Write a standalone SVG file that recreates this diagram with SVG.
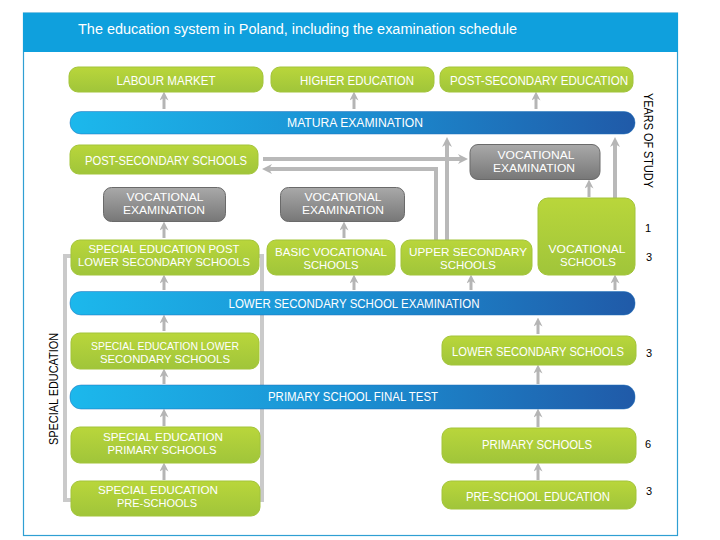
<svg xmlns="http://www.w3.org/2000/svg" width="720" height="540" viewBox="0 0 720 540">
<defs>
<linearGradient id="gGreen" x1="0" y1="0" x2="0" y2="1">
<stop offset="0" stop-color="#b9d63b"/><stop offset="1" stop-color="#a0c53a"/>
</linearGradient>
<linearGradient id="gGray" x1="0" y1="0" x2="0" y2="1">
<stop offset="0" stop-color="#a9a9a9"/><stop offset="1" stop-color="#777777"/>
</linearGradient>
<linearGradient id="gBlue" x1="0" y1="0" x2="1" y2="0">
<stop offset="0" stop-color="#1cb8ec"/><stop offset="0.5" stop-color="#1b8fd2"/><stop offset="1" stop-color="#205aa8"/>
</linearGradient>
<marker id="ah" viewBox="0 0 10 10" refX="6" refY="5" markerWidth="10" markerHeight="10" markerUnits="userSpaceOnUse" orient="auto">
<path d="M0,0 L10,5 L0,10 L3,5 z" fill="#b5b5b5"/>
</marker>
<marker id="ahs" viewBox="0 0 10 10" refX="5" refY="5" markerWidth="9" markerHeight="9" markerUnits="userSpaceOnUse" orient="auto">
<path d="M0,0 L10,5 L0,10 L3,5 z" fill="#b5b5b5"/>
</marker>
</defs>
<style>
.green{fill:url(#gGreen);stroke:#a3c43a;stroke-width:1}
.gray{fill:url(#gGray);stroke:#6a6a6a;stroke-width:1}
.bar{fill:url(#gBlue);stroke:#1d6fb8;stroke-width:0.5}
.t{font-family:"Liberation Sans",Arial,sans-serif;font-size:12.5px;fill:#ffffff;text-anchor:middle}
.t2{font-family:"Liberation Sans",Arial,sans-serif;font-size:11px;fill:#ffffff;text-anchor:middle}
.n{font-family:"Liberation Sans",Arial,sans-serif;font-size:11px;fill:#000000;text-anchor:middle}
.lbl{font-family:"Liberation Sans",Arial,sans-serif;font-size:12px;fill:#000000;text-anchor:middle}
.con{stroke:#b9b9b9;stroke-width:4;fill:none}
.sa{stroke:#b5b5b5;stroke-width:3;fill:none}
.br{stroke:#cacaca;stroke-width:4;fill:none}
</style>
<rect x="0" y="0" width="720" height="540" fill="#ffffff"/>
<rect x="23.5" y="13" width="654" height="522.5" fill="#ffffff" stroke="#2f9fd3" stroke-width="1.2"/>
<rect x="23" y="13" width="655" height="39" fill="#0fa0dd"/>
<text x="78" y="34" textLength="439" lengthAdjust="spacingAndGlyphs" style="font-family:'Liberation Sans',Arial,sans-serif;font-size:14px;fill:#ffffff">The education system in Poland, including the examination schedule</text>

<g id="special-education-bracket">
<rect class="br" x="65" y="256" width="197" height="244"/>
</g>

<g id="connectors">
<line class="sa" x1="164" y1="109" x2="164" y2="96" marker-end="url(#ahs)"/>
<line class="sa" x1="354" y1="109" x2="354" y2="96" marker-end="url(#ahs)"/>
<line class="sa" x1="536" y1="109" x2="536" y2="96" marker-end="url(#ahs)"/>
<polyline class="con" points="263,159 464,159" marker-end="url(#ah)"/>
<polyline class="con" points="436,240 436,169 266,169" marker-end="url(#ah)"/>
<polyline class="con" points="447,240 447,141" marker-end="url(#ah)"/>
<polyline class="con" points="615,198 615,141" marker-end="url(#ah)"/>
<line class="sa" x1="589" y1="197" x2="589" y2="184" marker-end="url(#ahs)"/>
<line class="sa" x1="164" y1="238" x2="164" y2="226" marker-end="url(#ahs)"/>
<line class="sa" x1="344" y1="238" x2="344" y2="226" marker-end="url(#ahs)"/>
<line class="sa" x1="164" y1="290" x2="164" y2="279" marker-end="url(#ahs)"/>
<line class="sa" x1="354" y1="290" x2="354" y2="279" marker-end="url(#ahs)"/>
<line class="sa" x1="471" y1="290" x2="471" y2="279" marker-end="url(#ahs)"/>
<line class="sa" x1="615" y1="290" x2="615" y2="279" marker-end="url(#ahs)"/>
<line class="sa" x1="164" y1="331" x2="164" y2="319" marker-end="url(#ahs)"/>
<line class="sa" x1="538" y1="334" x2="538" y2="322" marker-end="url(#ahs)"/>
<line class="sa" x1="164" y1="384" x2="164" y2="373" marker-end="url(#ahs)"/>
<line class="sa" x1="538" y1="384" x2="538" y2="369" marker-end="url(#ahs)"/>
<line class="sa" x1="164" y1="426" x2="164" y2="413" marker-end="url(#ahs)"/>
<line class="sa" x1="538" y1="427" x2="538" y2="413" marker-end="url(#ahs)"/>
<line class="sa" x1="164" y1="480" x2="164" y2="467" marker-end="url(#ahs)"/>
<line class="sa" x1="538" y1="480" x2="538" y2="467" marker-end="url(#ahs)"/>
</g>

<g id="labour-market"><rect class="green" x="69" y="67" width="194" height="25" rx="9"/><text class="t" x="166" y="85" textLength="99" lengthAdjust="spacingAndGlyphs">LABOUR MARKET</text></g>
<g id="higher-education"><rect class="green" x="271" y="67" width="163" height="25" rx="9"/><text class="t" x="357" y="85" textLength="114" lengthAdjust="spacingAndGlyphs">HIGHER EDUCATION</text></g>
<g id="post-secondary-education"><rect class="green" x="440" y="67" width="193" height="25" rx="9"/><text class="t" x="539" y="85" textLength="178" lengthAdjust="spacingAndGlyphs">POST-SECONDARY EDUCATION</text></g>

<g id="matura-examination"><rect class="bar" x="70" y="111.5" width="565" height="22.5" rx="11"/><text class="t" x="355" y="127" textLength="136" lengthAdjust="spacingAndGlyphs">MATURA EXAMINATION</text></g>

<g id="post-secondary-schools"><rect class="green" x="70" y="145" width="188" height="29" rx="9"/><text class="t" x="166" y="165" textLength="162" lengthAdjust="spacingAndGlyphs">POST-SECONDARY SCHOOLS</text></g>

<g id="vocational-examination-right"><rect class="gray" x="470" y="144.5" width="130" height="35" rx="8"/><text class="t2" x="536" y="159" textLength="77" lengthAdjust="spacingAndGlyphs">VOCATIONAL</text><text class="t2" x="534" y="172" textLength="82" lengthAdjust="spacingAndGlyphs">EXAMINATION</text></g>
<g id="vocational-examination-left"><rect class="gray" x="103.5" y="187.5" width="122" height="34" rx="8"/><text class="t2" x="165" y="201" textLength="77" lengthAdjust="spacingAndGlyphs">VOCATIONAL</text><text class="t2" x="164" y="214" textLength="82" lengthAdjust="spacingAndGlyphs">EXAMINATION</text></g>
<g id="vocational-examination-mid"><rect class="gray" x="280.5" y="187.5" width="124" height="34" rx="8"/><text class="t2" x="343" y="201" textLength="77" lengthAdjust="spacingAndGlyphs">VOCATIONAL</text><text class="t2" x="343" y="214" textLength="82" lengthAdjust="spacingAndGlyphs">EXAMINATION</text></g>

<g id="special-education-post-lower-secondary"><rect class="green" x="71" y="240" width="188" height="35" rx="9"/><text class="t2" x="164" y="253" textLength="151" lengthAdjust="spacingAndGlyphs">SPECIAL EDUCATION POST</text><text class="t2" x="164" y="266" textLength="172" lengthAdjust="spacingAndGlyphs">LOWER SECONDARY SCHOOLS</text></g>
<g id="basic-vocational-schools"><rect class="green" x="267" y="240" width="128" height="35" rx="9"/><text class="t2" x="331" y="256" textLength="112" lengthAdjust="spacingAndGlyphs">BASIC VOCATIONAL</text><text class="t2" x="331" y="269" textLength="55" lengthAdjust="spacingAndGlyphs">SCHOOLS</text></g>
<g id="upper-secondary-schools"><rect class="green" x="401" y="240" width="131" height="35" rx="9"/><text class="t2" x="468" y="256" textLength="118" lengthAdjust="spacingAndGlyphs">UPPER SECONDARY</text><text class="t2" x="468" y="269" textLength="56" lengthAdjust="spacingAndGlyphs">SCHOOLS</text></g>
<g id="vocational-schools"><rect class="green" x="538" y="198" width="97" height="77" rx="10"/><text class="t2" x="587" y="253" textLength="77" lengthAdjust="spacingAndGlyphs">VOCATIONAL</text><text class="t2" x="588" y="266" textLength="56" lengthAdjust="spacingAndGlyphs">SCHOOLS</text></g>

<g id="lower-secondary-school-examination"><rect class="bar" x="70" y="291.5" width="565" height="23.5" rx="11"/><text class="t" x="354" y="308" textLength="251" lengthAdjust="spacingAndGlyphs">LOWER SECONDARY SCHOOL EXAMINATION</text></g>

<g id="special-education-lower-secondary"><rect class="green" x="71" y="333" width="188" height="36" rx="9"/><text class="t2" x="165" y="350" textLength="148" lengthAdjust="spacingAndGlyphs">SPECIAL EDUCATION LOWER</text><text class="t2" x="165" y="363" textLength="130" lengthAdjust="spacingAndGlyphs">SECONDARY SCHOOLS</text></g>
<g id="lower-secondary-schools"><rect class="green" x="442" y="336" width="194" height="29" rx="9"/><text class="t" x="538" y="356" textLength="172" lengthAdjust="spacingAndGlyphs">LOWER SECONDARY SCHOOLS</text></g>

<g id="primary-school-final-test"><rect class="bar" x="70" y="385" width="565" height="24" rx="11"/><text class="t" x="353" y="401" textLength="170" lengthAdjust="spacingAndGlyphs">PRIMARY SCHOOL FINAL TEST</text></g>

<g id="special-education-primary-schools"><rect class="green" x="71" y="427" width="189" height="36" rx="9"/><text class="t2" x="163" y="441" textLength="120" lengthAdjust="spacingAndGlyphs">SPECIAL EDUCATION</text><text class="t2" x="162" y="454" textLength="109" lengthAdjust="spacingAndGlyphs">PRIMARY SCHOOLS</text></g>
<g id="primary-schools"><rect class="green" x="442" y="428" width="194" height="35" rx="9"/><text class="t" x="537" y="449" textLength="110" lengthAdjust="spacingAndGlyphs">PRIMARY SCHOOLS</text></g>

<g id="special-education-pre-schools"><rect class="green" x="71" y="481" width="189" height="35" rx="9"/><text class="t2" x="158" y="494" textLength="120" lengthAdjust="spacingAndGlyphs">SPECIAL EDUCATION</text><text class="t2" x="157" y="507" textLength="80" lengthAdjust="spacingAndGlyphs">PRE-SCHOOLS</text></g>
<g id="pre-school-education"><rect class="green" x="442" y="481" width="194" height="28" rx="9"/><text class="t" x="538" y="501" textLength="144" lengthAdjust="spacingAndGlyphs">PRE-SCHOOL EDUCATION</text></g>

<g id="years-labels">
<text class="n" x="648" y="232">1</text>
<text class="n" x="649" y="261">3</text>
<text class="n" x="649" y="357">3</text>
<text class="n" x="648" y="448">6</text>
<text class="n" x="649" y="495">3</text>
</g>
<text class="lbl" transform="translate(644,140.5) rotate(90)" x="0" y="0" textLength="95" lengthAdjust="spacingAndGlyphs">YEARS OF STUDY</text>
<text class="lbl" transform="translate(58,389) rotate(-90)" x="0" y="0" textLength="112" lengthAdjust="spacingAndGlyphs">SPECIAL EDUCATION</text>
</svg>
